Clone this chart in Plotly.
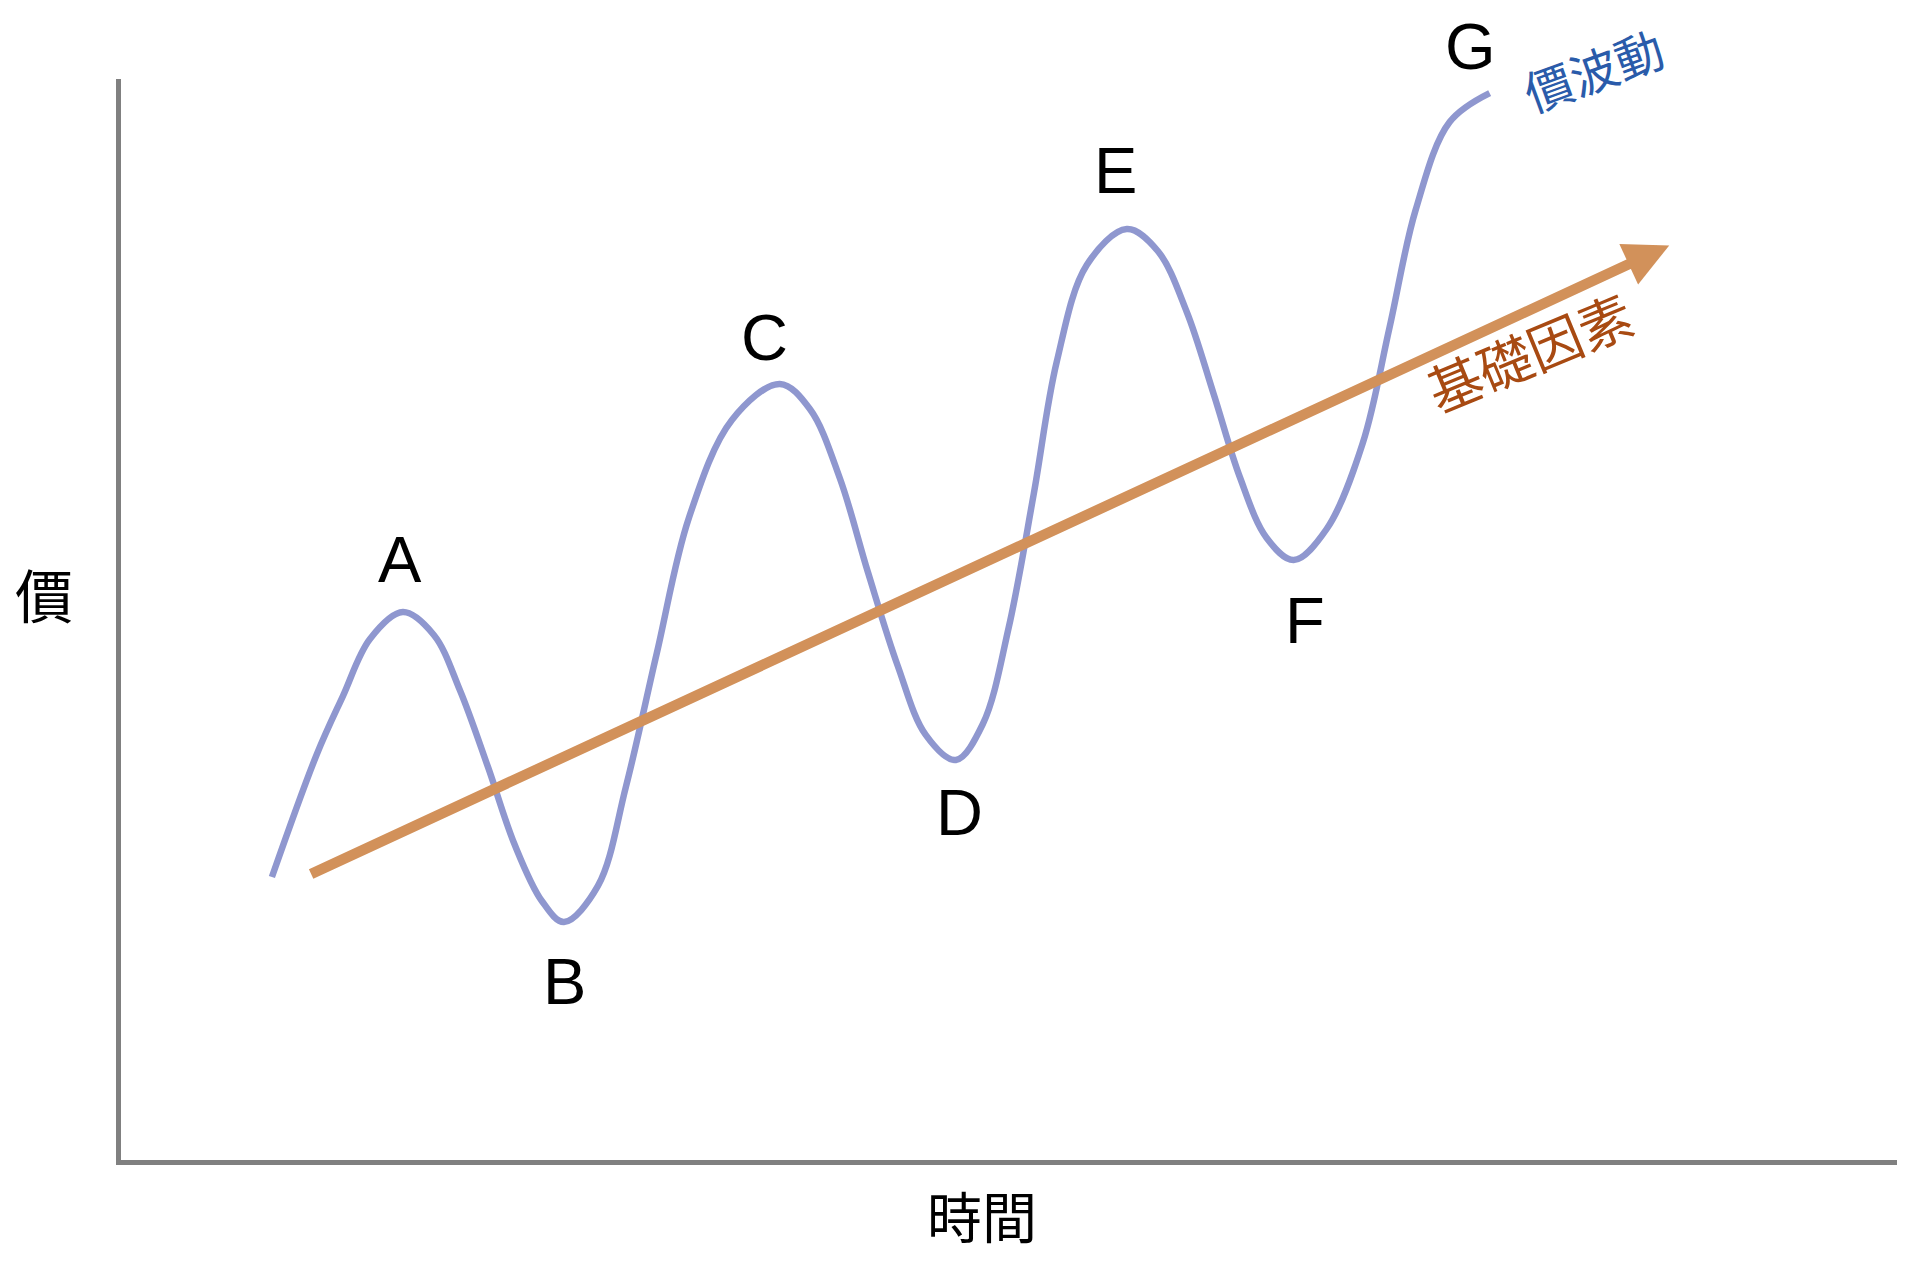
import plotly.graph_objects as go

# Price wave: points (time, price), arbitrary 0-100 units
wave_x = [8.48, 11.01, 12.47, 13.99, 15.84, 17.58, 19.04, 20.62, 22.13, 23.65,
          24.89, 26.80, 28.37, 30.11, 31.91, 34.33, 37.02, 38.71, 40.39, 41.97,
          43.65, 45.22, 46.91, 48.43, 49.89, 51.29, 52.58, 54.27, 56.52, 58.26,
          59.89, 61.40, 62.87, 64.38, 65.90, 67.75, 69.78, 71.29, 72.75, 74.66,
          76.91]
wave_y = [26.18, 37.56, 42.92, 48.20, 50.69, 48.57, 43.48, 36.36, 29.14, 23.96,
          22.02, 25.35, 34.51, 46.90, 59.39, 68.46, 71.79, 69.47, 63.09, 54.39,
          45.70, 39.32, 37.00, 40.33, 49.31, 61.61, 73.82, 82.79, 86.12, 84.09,
          78.45, 70.86, 63.18, 57.54, 55.50, 58.37, 66.33, 77.06, 87.88, 96.02,
          98.70]

# Labelled turning points (index into the wave)
point_names = ["A", "B", "C", "D", "E", "F", "G"]
point_index = [4, 10, 16, 22, 28, 34, 40]

# Fundamentals trend arrow: tail -> tip
trend_x = [10.6, 87.0]
trend_y = [26.4, 84.6]

wave_color = "#8F97CF"
trend_color = "#D2915A"
cjk = "Noto Sans CJK TC"

fig = go.Figure()

fig.add_trace(go.Scatter(
    x=wave_x, y=wave_y,
    mode="lines",
    line=dict(color=wave_color, width=6.5, shape="spline", smoothing=1.0),
    hoverinfo="skip",
    showlegend=False,
))

# trend arrow
fig.add_annotation(
    x=trend_x[1], y=trend_y[1], ax=trend_x[0], ay=trend_y[0],
    xref="x", yref="y", axref="x", ayref="y",
    text="", showarrow=True,
    arrowhead=2, arrowsize=0.85, arrowwidth=10.5, arrowcolor=trend_color,
)

# letter labels: above peaks, below troughs
label_shift = [(-3, 53), (1, -60), (-15, 46), (4, -52), (-11, 59), (11, -60), (-19, 47)]
for name, idx, (dx, dy) in zip(point_names, point_index, label_shift):
    fig.add_annotation(
        x=wave_x[idx], y=wave_y[idx], xref="x", yref="y",
        text=name, showarrow=False, xshift=dx, yshift=dy,
        font=dict(family="Liberation Sans, Arial", size=65, color="black"),
    )

# series labels
fig.add_annotation(
    x=79.1, y=74.9, xref="x", yref="y", text="基礎因素", showarrow=False,
    textangle=-22.5, font=dict(family=cjk, size=54, color="#A84A12"),
)
fig.add_annotation(
    x=0.8288, y=1.0093, xref="paper", yref="paper", text="價波動", showarrow=False,
    xanchor="center", yanchor="middle",
    textangle=-20, font=dict(family=cjk, size=48, color="#2A5BAA"),
)

# axis titles
fig.add_annotation(
    x=-0.0434, y=0.5245, xref="paper", yref="paper", text="價", showarrow=False,
    xanchor="center", yanchor="middle",
    font=dict(family=cjk, size=58, color="black"),
)
fig.add_annotation(
    x=0.4848, y=-0.05, xref="paper", yref="paper", text="時間", showarrow=False,
    xanchor="center", yanchor="middle",
    font=dict(family=cjk, size=55, color="black"),
)

axis_style = dict(showgrid=False, zeroline=False, showticklabels=False, ticks="",
                  showline=True, linewidth=5, linecolor="#808080")

# page body has an 8px margin, so the figure is sized to fit inside it
fig.update_layout(
    width=1889, height=1246,
    margin=dict(l=113, r=0, t=71, b=94),
    paper_bgcolor="white", plot_bgcolor="white",
    xaxis=dict(range=[0, 99.8], **axis_style),
    yaxis=dict(range=[0, 100], **axis_style),
    hovermode=False,
)

fig.write_html("out.html")
